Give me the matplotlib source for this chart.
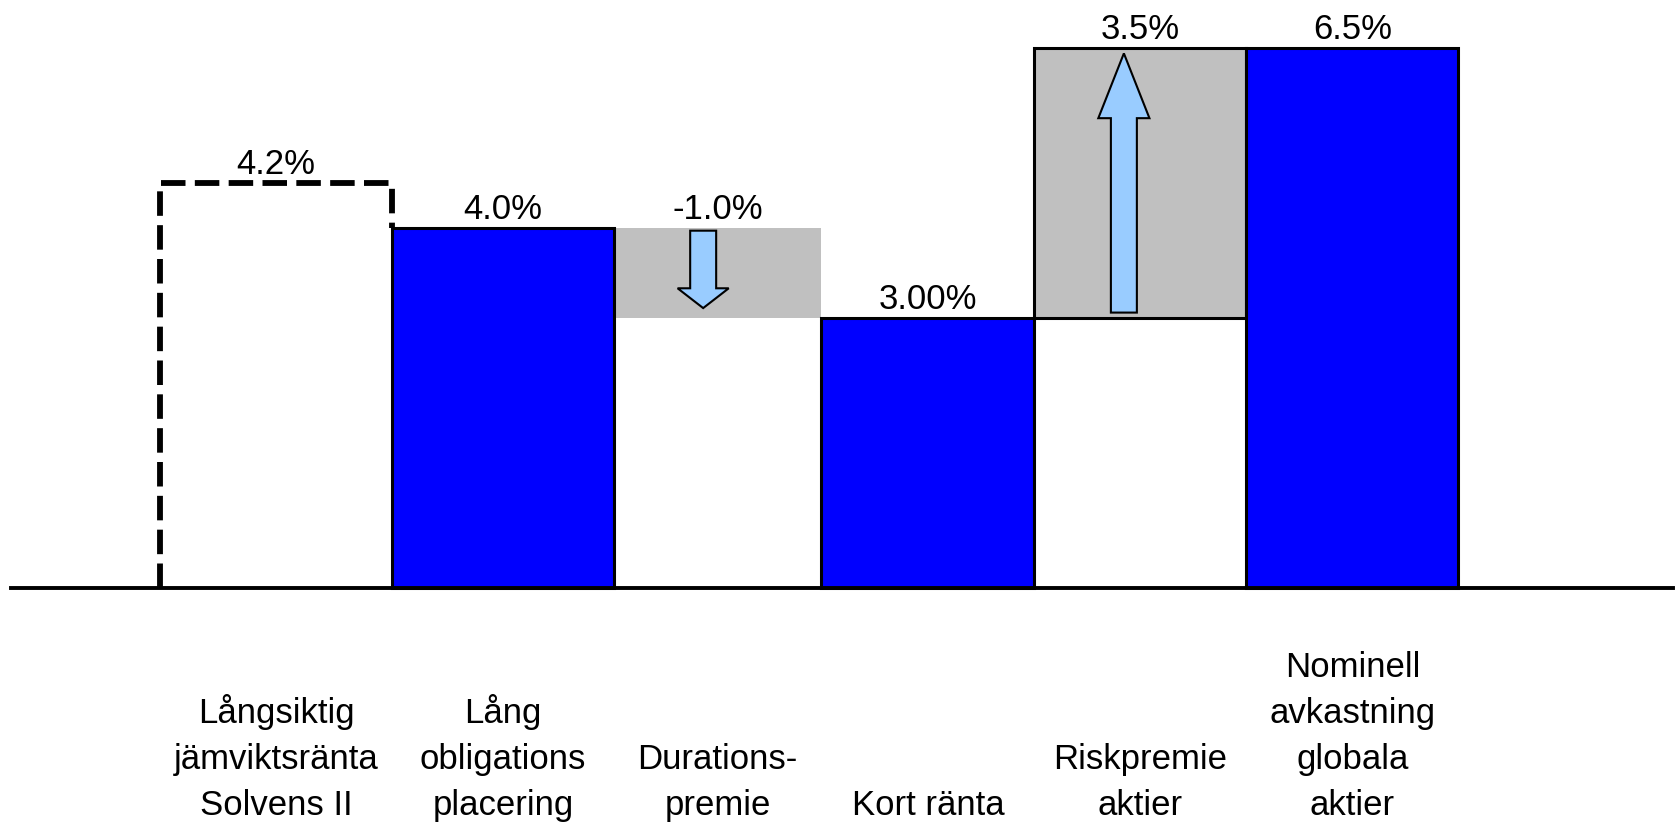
import numpy as np
import matplotlib
matplotlib.use("Agg")
import matplotlib.pyplot as plt
from matplotlib.patches import FancyArrow

plt.rcParams['font.family'] = ['Liberation Sans', 'DejaVu Sans']

# Steps of the waterfall (heights as drawn in the picture, in %)
categories = ["Långsiktig\njämviktsränta\nSolvens II",
              "Lång\nobligations\nplacering",
              "Durations-\npremie",
              "Kort ränta",
              "Riskpremie\naktier",
              "Nominell\navkastning\nglobala\naktier"]
kinds = ["ref", "total", "delta", "total", "delta", "total"]
heights = [4.5, 4.0, -1.0, 3.0, 3.0, 6.0]
value_labels = ["4.2%", "4.0%", "-1.0%", "3.00%", "3.5%", "6.5%"]

# layout: column widths (slightly uneven in the original)
widths = np.array([1.09, 1.04, 0.975, 1.0, 0.995, 0.995])
lefts = np.concatenate([[0], np.cumsum(widths)[:-1]])
centers = lefts + widths / 2

blue = "#0000FF"
grey = "#C0C0C0"
arrow_col = "#99CCFF"

fig = plt.figure(figsize=(16.79, 8.23), dpi=100)
ax = fig.add_axes([0, 0, 1, 1])
ax.set_xlim(-0.751, 7.131)
ax.set_ylim(-2.611, 6.533)
ax.axis('off')

# work out bottoms / tops of each step
bottoms, tops = [], []
level = 0.0
for k, h in zip(kinds, heights):
    if k == "delta":
        lo, hi = min(level, level + h), max(level, level + h)
        level = level + h
    else:
        lo, hi = 0.0, h
        if k == "total":
            level = h
    bottoms.append(lo)
    tops.append(hi)

for i, k in enumerate(kinds):
    if k == "total":
        ax.bar(lefts[i], tops[i] - bottoms[i], bottom=bottoms[i], width=widths[i],
               align='edge', color=blue, edgecolor='black', linewidth=2.2, zorder=3)
    elif k == "delta":
        boxed = heights[i] > 0
        ax.bar(lefts[i], tops[i] - bottoms[i], bottom=bottoms[i], width=widths[i],
               align='edge', color=grey, edgecolor='black' if boxed else grey,
               linewidth=2.2 if boxed else 0, zorder=2)

# dashed reference outline (first bar)
x0, x1 = lefts[0], lefts[1]
ax.plot([x0, x0, x1, x1], [0, tops[0], tops[0], tops[1]],
        color='black', lw=4.2, linestyle=(0, (4.2, 1.6)), zorder=4,
        solid_joinstyle='miter', dash_joinstyle='miter')

# arrows in the delta steps
for i, k in enumerate(kinds):
    if k != "delta":
        continue
    xc = lefts[i] + 0.42
    if heights[i] < 0:
        start, end, hl = tops[i] - 0.03, bottoms[i] + 0.11, 0.22
    else:
        start, end, hl = bottoms[i] + 0.06, tops[i] - 0.06, 0.72
    ax.add_patch(FancyArrow(xc, start, 0, end - start, width=0.122,
                            head_width=0.24, head_length=hl,
                            length_includes_head=True,
                            facecolor=arrow_col, edgecolor='black',
                            linewidth=1.5, zorder=5))

# value labels
for i, lab in enumerate(value_labels):
    ax.text(centers[i], tops[i] + 0.1, lab, ha='center', va='baseline',
            fontsize=25, zorder=6)

# baseline
ax.axhline(0, xmin=0.0066, xmax=0.9964, color='black', lw=2.8, zorder=6)

# category labels, bottom aligned
for i, c in enumerate(categories):
    ax.text(centers[i], -2.60, c, ha='center', va='bottom', fontsize=25,
            multialignment='center', linespacing=1.5)

fig.savefig("out.png", dpi=100)
